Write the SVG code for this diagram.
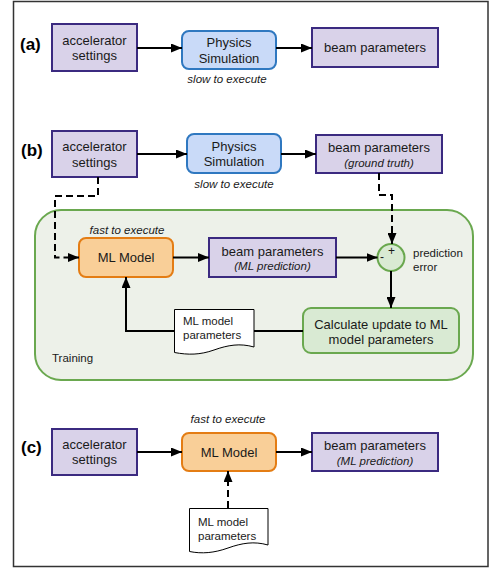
<svg xmlns="http://www.w3.org/2000/svg" width="498" height="573" viewBox="0 0 498 573">
<defs>
<marker id="ah" markerWidth="11" markerHeight="9" refX="11" refY="4.5" orient="auto" markerUnits="userSpaceOnUse">
<path d="M0,0 L11,4.5 L0,9 Z" fill="#000"/>
</marker>
<style>
text{font-family:"Liberation Sans",Arial,sans-serif;fill:#1a1a1a}
.t{font-size:13px;text-anchor:middle}
.s{font-size:11.5px;text-anchor:middle}
.i{font-style:italic}
.l{font-size:11.5px}
.lab{font-size:17px;font-weight:bold;fill:#000}
.pur{fill:#d9d2e9;stroke:#3b2a80;stroke-width:2}
.blu{fill:#c9daf8;stroke:#2f78c0;stroke-width:2}
.ora{fill:#f9cf98;stroke:#e47d14;stroke-width:2}
.grn{fill:#d9ead3;stroke:#6aa84f;stroke-width:2}
.doc{fill:#fff;stroke:#000;stroke-width:1}
.ln{fill:none;stroke:#000;stroke-width:2}
.dash{fill:none;stroke:#000;stroke-width:2;stroke-dasharray:7,4}
</style>
</defs>
<rect x="13.5" y="1.5" width="474.5" height="565" fill="#fff" stroke="#333" stroke-width="1.5"/>

<g id="training">
<rect x="35" y="210" width="438" height="170" rx="26" fill="#edf1e9" stroke="#6aa84f" stroke-width="2"/>
<text class="l" x="52" y="362">Training</text>
</g>

<g id="labels">
<text class="lab" x="20" y="50">(a)</text>
<text class="lab" x="21" y="156">(b)</text>
<text class="lab" x="21" y="453">(c)</text>
</g>

<g id="a-accel"><rect class="pur" x="52" y="24" width="85" height="47"/>
<text class="t" x="94.5" y="45">accelerator</text><text class="t" x="94.5" y="60">settings</text></g>
<g id="a-sim"><rect class="blu" x="182" y="31" width="94" height="38" rx="7"/>
<text class="t" x="229" y="47">Physics</text><text class="t" x="229" y="62.5">Simulation</text>
<text class="s i" x="227" y="83">slow to execute</text></g>
<g id="a-beam"><rect class="pur" x="312" y="28" width="126" height="39"/>
<text class="t" x="375" y="52">beam parameters</text></g>

<g id="b-accel"><rect class="pur" x="52" y="131" width="85" height="46"/>
<text class="t" x="94.5" y="151">accelerator</text><text class="t" x="94.5" y="166.5">settings</text></g>
<g id="b-sim"><rect class="blu" x="187" y="134" width="94" height="39" rx="7"/>
<text class="t" x="234" y="150.5">Physics</text><text class="t" x="234" y="166">Simulation</text>
<text class="s i" x="234" y="188">slow to execute</text></g>
<g id="b-beam"><rect class="pur" x="316" y="135" width="126" height="38"/>
<text class="t" x="379" y="152">beam parameters</text><text class="s i" x="379" y="166.5">(ground truth)</text></g>

<g id="b-ml"><rect class="ora" x="79" y="238" width="94" height="39" rx="7"/>
<text class="t" x="126" y="262">ML Model</text>
<text class="s i" x="127" y="234">fast to execute</text></g>
<g id="b-pred"><rect class="pur" x="209" y="238" width="127" height="39"/>
<text class="t" x="272.5" y="255.5">beam parameters</text><text class="s i" x="272.5" y="269.5">(ML prediction)</text></g>
<g id="b-sum"><circle class="grn" cx="391" cy="257.5" r="13.5"/>
<text x="391.5" y="255" style="font-size:12px;text-anchor:middle">+</text>
<text x="382" y="261" style="font-size:12px;text-anchor:middle">-</text>
<text class="l" x="413" y="256.5">prediction</text><text class="l" x="413" y="270.5">error</text></g>
<g id="b-calc"><rect class="grn" x="303" y="308" width="156" height="45" rx="8"/>
<text class="t" x="381" y="329">Calculate update to ML</text><text class="t" x="381" y="344">model parameters</text></g>
<g id="b-doc"><path class="doc" d="M174.5,309.5 H254 V347 C240,343 228,345 214,350 C200,355 188,355 174.5,352.5 Z"/>
<text class="l" x="183" y="325">ML model</text><text class="l" x="183" y="339">parameters</text></g>

<g id="c-accel"><rect class="pur" x="52" y="429" width="85" height="46"/>
<text class="t" x="94.5" y="448.5">accelerator</text><text class="t" x="94.5" y="464">settings</text></g>
<g id="c-ml"><rect class="ora" x="182" y="433" width="94" height="38" rx="7"/>
<text class="t" x="229" y="456.5">ML Model</text>
<text class="s i" x="228" y="423">fast to execute</text></g>
<g id="c-beam"><rect class="pur" x="312" y="433" width="126" height="38"/>
<text class="t" x="375" y="450">beam parameters</text><text class="s i" x="375" y="464.5">(ML prediction)</text></g>
<g id="c-doc"><path class="doc" d="M189.5,508.5 H268 V545 C254,541 242,543 228,548 C214,553 202,554 189.5,551.5 Z"/>
<text class="l" x="198" y="526">ML model</text><text class="l" x="198" y="539.5">parameters</text></g>

<g id="connectors">
<line class="ln" x1="137" y1="48" x2="182" y2="48" marker-end="url(#ah)"/>
<line class="ln" x1="276" y1="48" x2="312" y2="48" marker-end="url(#ah)"/>
<line class="ln" x1="137" y1="154" x2="187" y2="154" marker-end="url(#ah)"/>
<line class="ln" x1="281" y1="154" x2="316" y2="154" marker-end="url(#ah)"/>
<path class="dash" d="M98,177 V196 H55 V257.5 H79" marker-end="url(#ah)"/>
<line class="ln" x1="173" y1="257.5" x2="209" y2="257.5" marker-end="url(#ah)"/>
<line class="ln" x1="336" y1="257.5" x2="377.5" y2="257.5" marker-end="url(#ah)"/>
<path class="dash" d="M379,173 V195 H392 V244" marker-end="url(#ah)"/>
<line class="ln" x1="391" y1="271" x2="391" y2="308" marker-end="url(#ah)"/>
<line class="ln" x1="303" y1="331" x2="254" y2="331"/>
<path class="ln" d="M174.5,331 H126 V277" marker-end="url(#ah)"/>
<line class="ln" x1="137" y1="452" x2="182" y2="452" marker-end="url(#ah)"/>
<line class="ln" x1="276" y1="452" x2="312" y2="452" marker-end="url(#ah)"/>
<line class="dash" x1="228" y1="508" x2="228" y2="471" marker-end="url(#ah)"/>
</g>
</svg>
